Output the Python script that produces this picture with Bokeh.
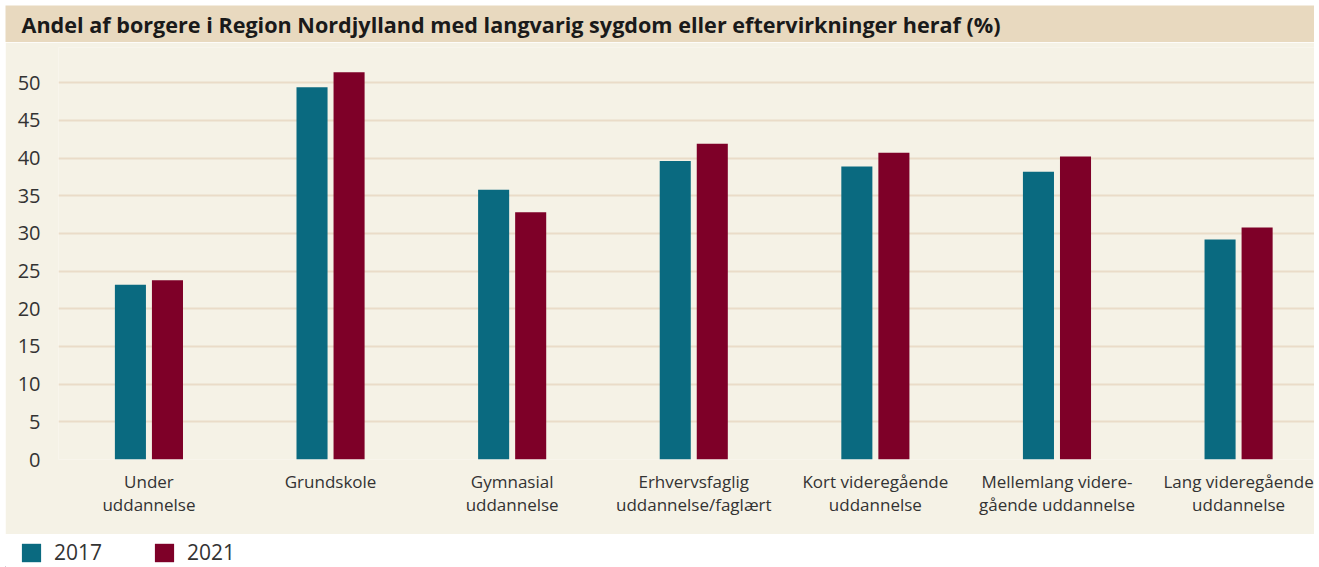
from bokeh.plotting import figure
from bokeh.models import (Range1d, FixedTicker, ColumnDataSource, Legend, LegendItem)
from bokeh.layouts import column
from bokeh.transform import dodge
from bokeh.core.properties import value
from bokeh.embed import file_html
from bokeh.resources import INLINE

title_text = "Andel af borgere i Region Nordjylland med langvarig sygdom eller eftervirkninger heraf (%)"
categories = [
    "Under\nuddannelse",
    "Grundskole",
    "Gymnasial\nuddannelse",
    "Erhvervsfaglig\nuddannelse/faglært",
    "Kort videregående\nuddannelse",
    "Mellemlang videre-\ngående uddannelse",
    "Lang videregående\nuddannelse",
]
years = ["2017", "2021"]
values_2017 = [23.2, 49.4, 35.8, 39.6, 38.9, 38.2, 29.2]
values_2021 = [23.8, 51.4, 32.8, 41.9, 40.7, 40.2, 30.8]
y_ticks = [0, 5, 10, 15, 20, 25, 30, 35, 40, 45, 50]

C17 = "#0A6A80"
C21 = "#7E0028"
CREAM = "#F5F2E6"
BAND = "#E8D9BF"
GRID = "#EADCC8"
TXT = "#333333"
FONT = "Open Sans"
W = 1309

# ---- title band ----
t = figure(width=W, height=37, x_range=Range1d(0, W), y_range=Range1d(0, 37),
           output_backend="svg", toolbar_location=None, min_border=0)
t.frame_align = False
t.axis.visible = False
t.grid.visible = False
t.outline_line_color = None
t.background_fill_color = BAND
t.border_fill_color = BAND
t.text(x=[16], y=[18], text=[title_text], text_font=value(FONT), text_font_style="bold",
       text_font_size="21.6px", text_color="#1a1a1a", text_baseline="middle", text_align="left")

# ---- main chart ----
idx = list(range(len(categories)))
src = ColumnDataSource(dict(x=idx, v17=values_2017, v21=values_2021))
p = figure(width=W, height=492, x_range=Range1d(-0.498, 6.418), y_range=Range1d(0, 54.68),
           output_backend="svg", toolbar_location=None,
           min_border_left=53, min_border_right=0, min_border_top=5, min_border_bottom=75)
p.background_fill_color = CREAM
p.border_fill_color = CREAM
p.outline_line_color = None
p.vbar(x=dodge("x", -0.102), top="v17", width=0.171, source=src, fill_color=C17, line_color=None)
p.vbar(x=dodge("x", 0.102), top="v21", width=0.171, source=src, fill_color=C21, line_color=None)

p.xgrid.visible = False
p.ygrid.grid_line_color = GRID
p.ygrid.grid_line_width = 2
p.ygrid.ticker = FixedTicker(ticks=y_ticks)

p.yaxis.ticker = FixedTicker(ticks=y_ticks)
p.yaxis.axis_line_color = None
p.yaxis.major_tick_line_color = None
p.yaxis.minor_tick_line_color = None
p.yaxis.major_label_standoff = 12
p.yaxis.major_label_text_font = FONT
p.yaxis.major_label_text_font_size = "20px"
p.yaxis.major_label_text_color = TXT

p.xaxis.ticker = FixedTicker(ticks=idx)
p.xaxis.major_label_overrides = {i: c for i, c in zip(idx, categories)}
p.xaxis.axis_line_color = None
p.xaxis.major_tick_line_color = None
p.xaxis.minor_tick_line_color = None
p.xaxis.major_label_standoff = 4
p.xaxis.major_label_text_font = FONT
p.xaxis.major_label_text_font_size = "17px"
p.xaxis.major_label_text_color = TXT
p.xaxis.major_label_text_line_height = 1.0

# ---- legend strip ----
lg = figure(width=W, height=33, x_range=Range1d(0, W), y_range=Range1d(0, 33),
            output_backend="svg", toolbar_location=None, min_border=0)
lg.frame_align = False
lg.axis.visible = False
lg.grid.visible = False
lg.outline_line_color = None
lg.background_fill_color = "white"
lg.border_fill_color = "white"
e = ColumnDataSource(dict(x=[-100], top=[1]))
a = lg.vbar(x="x", top="top", width=1, source=e, fill_color=C17, line_color=None)
b = lg.vbar(x="x", top="top", width=1, source=e, fill_color=C21, line_color=None)
leg = Legend(items=[LegendItem(label=years[0], renderers=[a]), LegendItem(label=years[1], renderers=[b])],
             orientation="horizontal", location=(14, 1), padding=0, margin=0, spacing=50,
             glyph_width=24, glyph_height=23, label_height=18, label_standoff=11,
             label_text_font=FONT, label_text_font_size="21px", label_text_color=TXT,
             label_text_line_height=1.0,
             border_line_color=None, background_fill_alpha=0)
lg.add_layout(leg)

layout = column(t, p, lg, spacing=0, margin=(5, 5, 0, 5))
open("out.html", "w").write(file_html(layout, INLINE))
